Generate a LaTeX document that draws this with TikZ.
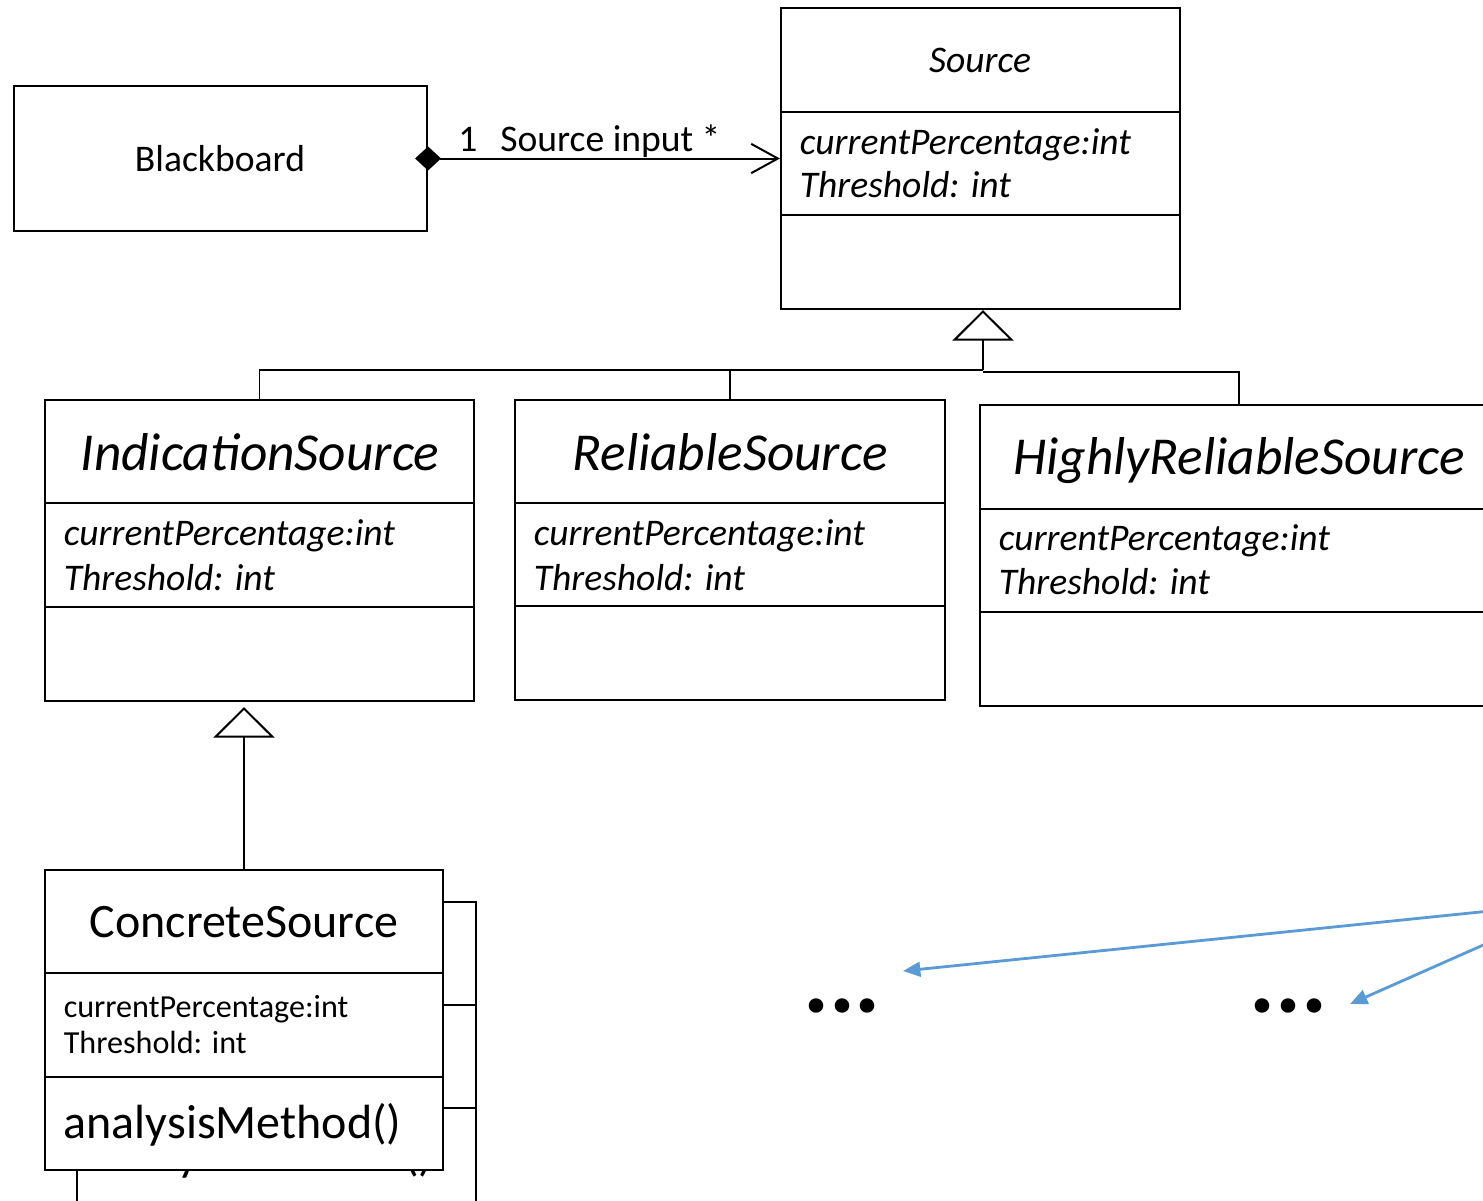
\documentclass[tikz,border=0pt]{standalone}
\usepackage{fontspec}
\setmainfont{Carlito}
\usetikzlibrary{arrows.meta,fit}
\definecolor{hintblue}{RGB}{91,155,213}
\tikzset{
  classbox/.style={draw, line width=1.6pt, inner sep=0pt, fill=white},
  divider/.style={line width=1.6pt},
  assoc/.style={line width=1.5pt},
  inh/.style={line width=0.9pt},
  gentip/.style={line width=0.9pt, -{Triangle[open, length=23pt, width=46pt, line width=1.5pt]}},
  hint/.style={draw=hintblue, line width=2.1pt, -{Triangle[length=13pt, width=11pt]}},
  lbl/.style={inner sep=0pt, font=\fontsize{28.2}{34}\selectfont},
  smalltitle/.style={inner sep=0pt, anchor=base, font=\fontsize{28.2}{34}\selectfont\itshape},
  bigtitle/.style={inner sep=0pt, anchor=base, font=\fontsize{40}{48}\selectfont\itshape},
  attr/.style={anchor=base west, inner sep=0pt, font=\fontsize{28.2}{34}\selectfont\itshape},
  cstitle/.style={inner sep=0pt, anchor=base, font=\fontsize{36}{43}\selectfont},
  csattr/.style={anchor=base west, inner sep=0pt, font=\fontsize{24.1}{29}\selectfont},
  method/.style={anchor=base west, inner sep=0pt, font=\fontsize{36}{43}\selectfont},
  dotstext/.style={anchor=base, inner sep=0pt, font=\fontsize{73}{80}\selectfont\bfseries}
}
\begin{document}
\begin{tikzpicture}[x=0.75pt,y=-0.75pt]
\useasboundingbox (0,0) rectangle (1483,1200);
\clip (0,0) rectangle (1483,1200);
\fill[white] (0,0) rectangle (1483,1200);

% Blackboard
\node[classbox, fit={(14,86) (427,231)}] (bb) {};
\node[lbl, anchor=base] (bbT) at (220,171) {Blackboard};

% Source
\node[classbox, fit={(781,8) (1180,309)}] (src) {};
\draw[divider] (src.west |- 0,112) -- (src.east |- 0,112);
\draw[divider] (src.west |- 0,215) -- (src.east |- 0,215);
\node[smalltitle] (srcT) at (980,72) {Source};
\node[attr] (srcA1) at (799.5,154) {currentPercentage:int};
\node[attr] (srcA2) at (799.5,197) {Threshold: int};

% association
\draw[assoc, {Diamond[length=19.5pt, width=18pt]}-{Straight Barb[length=20pt, width=22pt]}, shorten <=-9.75pt] (bb.east) -- (src.west);
\node[lbl, anchor=base west] (mult1) at (458,151) {1};
\node[lbl, anchor=base west] (role) at (500,151) {Source input *};

% IndicationSource
\node[classbox, fit={(45,400) (474,701)}] (is) {};
\draw[divider] (is.west |- 0,503) -- (is.east |- 0,503);
\draw[divider] (is.west |- 0,607) -- (is.east |- 0,607);
\node[bigtitle] (isT) at (260,470) {IndicationSource};
\node[attr] (isA1) at (63.5,545) {currentPercentage:int};
\node[attr] (isA2) at (63.5,590) {Threshold: int};

% ReliableSource
\node[classbox, fit={(515,400) (945,700)}] (rs) {};
\draw[divider] (rs.west |- 0,503) -- (rs.east |- 0,503);
\draw[divider] (rs.west |- 0,606) -- (rs.east |- 0,606);
\node[bigtitle] (rsT) at (730,470) {ReliableSource};
\node[attr] (rsA1) at (533.5,545) {currentPercentage:int};
\node[attr] (rsA2) at (533.5,590) {Threshold: int};

% HighlyReliableSource
\node[classbox, fit={(980,405) (1498,706)}] (hrs) {};
\draw[divider] (hrs.west |- 0,509) -- (hrs.east |- 0,509);
\draw[divider] (hrs.west |- 0,612) -- (hrs.east |- 0,612);
\node[bigtitle] (hrsT) at (1239,474) {HighlyReliableSource};
\node[attr] (hrsA1) at (998.5,550) {currentPercentage:int};
\node[attr] (hrsA2) at (998.5,594) {Threshold: int};

% generalisation tree
\coordinate (j1) at (983,370);
\coordinate (j2) at (983,372);
\draw[inh] (is.north) |- (j1);
\draw[inh] (rs.north) |- (j1);
\draw[inh] (hrs.north) |- (j2);
\draw[gentip] (j1) -- (src.south -| j1);

% ConcreteSource (back copy)
\node[classbox, fit={(77,902) (476,1215)}] (csb) {};
\draw[divider] (csb.west |- 0,1005) -- (csb.east |- 0,1005);
\draw[divider] (csb.west |- 0,1108) -- (csb.east |- 0,1108);
\node[method] (csbM) at (95.5,1170) {analysisMethod()};

% ConcreteSource (front)
\node[classbox, fit={(45,870) (443,1170)}] (cs) {};
\draw[divider] (cs.west |- 0,973) -- (cs.east |- 0,973);
\draw[divider] (cs.west |- 0,1077) -- (cs.east |- 0,1077);
\node[cstitle] (csT) at (244,937) {ConcreteSource};
\node[csattr] (csA1) at (63.5,1017) {currentPercentage:int};
\node[csattr] (csA2) at (63.5,1053) {Threshold: int};
\node[method] (csM) at (63.5,1138) {analysisMethod()};

\draw[gentip, shorten >=3.75pt] (cs.north) -- (is.south -| cs.north);

% ellipses
\node[dotstext] (d1) at (842,1012) {...};
\node[dotstext] (d2) at (1288,1012) {...};

% blue arrows
\coordinate (h1s) at (1490,911);
\coordinate (h1e) at (903,971);
\coordinate (h2s) at (1490,942);
\coordinate (h2e) at (1350,1004);
\draw[hint] (h1s) -- (h1e);
\draw[hint] (h2s) -- (h2e);
\end{tikzpicture}
\end{document}
